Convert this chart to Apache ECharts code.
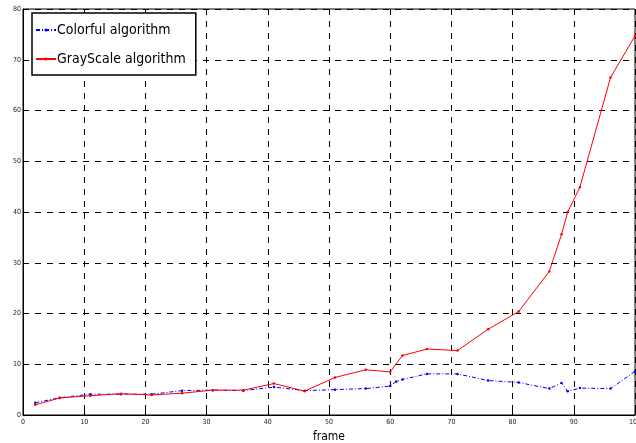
<!DOCTYPE html>
<html><head><meta charset="utf-8">
<script src="https://cdn.jsdelivr.net/npm/echarts@6/dist/echarts.min.js"></script>
<style>html,body{margin:0;padding:0;background:#fff}#c{width:636px;height:443px}</style>
</head><body><div id="c"></div>
<script>
const seriesNames = ["Colorful algorithm", "GrayScale algorithm"];
const colorfulFrames = [2,6,11,16,21,26,31,36,41,46,51,56,60,61,62,66,71,76,81,86,88,89,91,96,100];
const colorfulErr = [2.4,3.4,4.1,4.1,4.1,4.8,4.9,4.8,5.5,4.8,5.0,5.2,5.7,6.6,7.0,8.1,8.1,6.8,6.4,5.2,6.3,4.7,5.3,5.2,8.6];
const grayFrames = [2,6,11,16,21,26,31,36,41,46,51,56,60,62,66,71,76,81,86,88,89,91,96,100];
const grayErr = [2.0,3.35,3.8,4.2,3.95,4.3,4.9,4.9,6.2,4.7,7.4,8.9,8.5,11.7,13.0,12.7,16.9,20.4,28.3,35.6,40.0,44.9,66.5,74.7];
const xTitle = "frame";
const yTitle = "N err";

const pair = (xs, ys) => xs.map((x, i) => [x, ys[i]]);
const chart = echarts.init(document.getElementById('c'), null, {renderer: 'canvas'});
const tickFont = {fontFamily: 'Liberation Sans Narrow, DejaVu Sans Condensed, sans-serif', fontSize: 7, color: '#222'};
const grid = {lineStyle: {color: '#000', type: [6, 6], width: 1}};
chart.setOption({
  animation: false,
  backgroundColor: '#fff',
  grid: {left: 23, right: 1, top: 9, bottom: 28, show: true, borderColor: '#000', borderWidth: 1,
         backgroundColor: 'transparent', containLabel: false, outerBoundsMode: 'none'},
  legend: {
    orient: 'vertical', left: 32, top: 13,
    backgroundColor: '#fff', borderColor: '#000', borderWidth: 1.5,
    padding: [10, 10, 9, 3], itemGap: 15, itemWidth: 20, itemHeight: 4,
    textStyle: {fontFamily: 'Liberation Sans Narrow, DejaVu Sans Condensed, sans-serif', fontSize: 14, color: '#000', padding: [0, 0, 0, -4]},
    data: seriesNames
  },
  xAxis: {
    type: 'value', min: 0, max: 100, interval: 10,
    name: xTitle, nameLocation: 'middle', nameGap: 10,
    nameTextStyle: {fontFamily: 'DejaVu Sans Condensed, sans-serif', fontSize: 12, color: '#000'},
    axisLine: {lineStyle: {color: '#000', width: 1}},
    axisTick: {inside: true, length: 4, lineStyle: {color: '#000'}},
    axisLabel: Object.assign({margin: 4}, tickFont),
    splitLine: Object.assign({show: true}, grid)
  },
  yAxis: {
    type: 'value', min: 0, max: 80, interval: 10,
    name: yTitle, nameLocation: 'middle', nameGap: 10,
    nameTextStyle: {fontFamily: 'DejaVu Sans Condensed, sans-serif', fontSize: 12.5, color: '#000'},
    axisLine: {show: true, lineStyle: {color: '#000', width: 1}},
    axisTick: {show: true, inside: true, length: 4, lineStyle: {color: '#000'}},
    axisLabel: Object.assign({margin: 2}, tickFont),
    splitLine: Object.assign({show: true}, grid)
  },
  series: [
    {
      name: seriesNames[0], type: 'line', data: pair(colorfulFrames, colorfulErr),
      color: '#0000ff', symbol: 'circle', symbolSize: 2.5, showSymbol: true,
      lineStyle: {width: 1, type: [4, 2, 1, 2]}, itemStyle: {color: '#0000ff'}, z: 3
    },
    {
      name: seriesNames[1], type: 'line', data: pair(grayFrames, grayErr),
      color: '#ff0000', symbol: 'circle', symbolSize: 2.5, showSymbol: true,
      lineStyle: {width: 1}, itemStyle: {color: '#ff0000'}, z: 4
    }
  ]
});
</script></body></html>
